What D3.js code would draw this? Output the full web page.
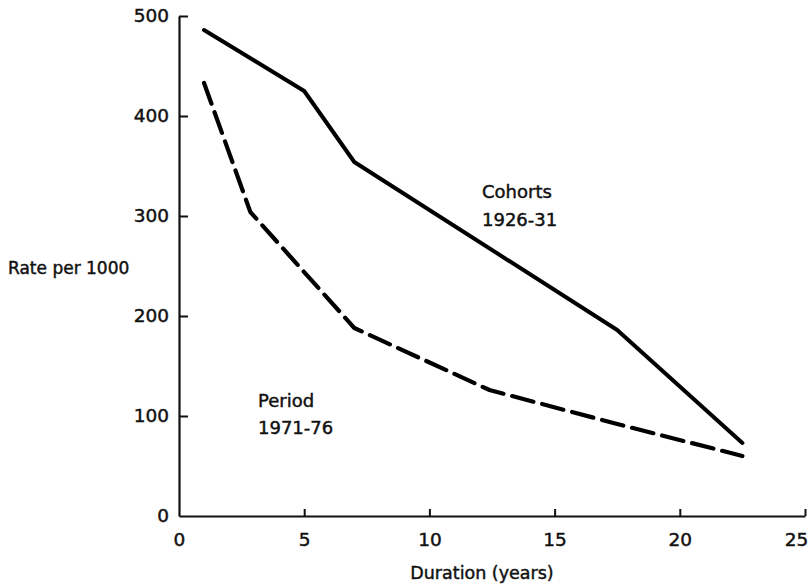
<!DOCTYPE html>
<html>
<head>
<meta charset="utf-8">
<script src="https://cdn.jsdelivr.net/npm/d3@7"></script>
<style>
  body { margin: 0; background: #fff; }
  text { font-family: "DejaVu Sans", sans-serif; fill: #111; stroke: #111; stroke-width: 0.45px; }
</style>
</head>
<body>
<svg id="chart" width="812" height="585"></svg>
<script>
// values
var cohortDur  = [1, 5, 7, 17.5, 22.5];
var cohortRate = [486, 425, 354, 186, 73];
var periodDur  = [1, 2.85, 7, 12.4, 17.5, 22.5];
var periodRate = [433, 304, 188, 126, 92, 60];
var xTicks = [0, 5, 10, 15, 20, 25];
var yTicks = [0, 100, 200, 300, 400, 500];

var svg = d3.select("#chart"),
    margin = {top: 16, right: 7, bottom: 69, left: 179},
    width = svg.attr("width") - margin.left - margin.right,
    height = svg.attr("height") - margin.top - margin.bottom;

var x = d3.scaleLinear().domain([0, 25]).range([0, width]);
var y = d3.scaleLinear().domain([0, 500]).range([height, 0]);

var g = svg.append("g")
    .attr("transform", "translate(" + margin.left + "," + margin.top + ")");

// axes: ticks point inward, as in the print
var xAxis = g.append("g")
    .attr("transform", "translate(0," + height + ")")
    .call(d3.axisBottom(x).tickValues(xTicks).tickSizeInner(-7).tickSizeOuter(0).tickPadding(17));
var yAxis = g.append("g")
    .call(d3.axisLeft(y).tickValues(yTicks).tickSizeInner(-9).tickSizeOuter(0).tickPadding(10));

[xAxis, yAxis].forEach(function(a) {
  a.select(".domain").attr("stroke", "#111").attr("stroke-width", 2.2);
  a.selectAll(".tick line").attr("stroke", "#111").attr("stroke-width", 2);
  a.selectAll(".tick text").style("font-size", "18.5px").attr("fill", "#111");
});
xAxis.select(".tick line").remove(); // no tick at x = 0
yAxis.selectAll(".tick").filter(function(d) { return d === 0; }).select("line").remove();
xAxis.selectAll(".tick").filter(function(d) { return d === 25; }).select("text").attr("dx", -9);

var line = d3.line()
    .x(function(d) { return x(d[0]); })
    .y(function(d) { return y(d[1]); });

var cohorts = d3.zip(cohortDur, cohortRate);
var period = d3.zip(periodDur, periodRate);

g.append("path")
    .datum(cohorts)
    .attr("fill", "none")
    .attr("stroke", "#000")
    .attr("stroke-width", 4)
    .attr("stroke-linecap", "round")
    .attr("stroke-linejoin", "round")
    .attr("d", line);

g.append("path")
    .datum(period)
    .attr("fill", "none")
    .attr("stroke", "#000")
    .attr("stroke-width", 4.2)
    .attr("stroke-linecap", "round")
    .attr("stroke-linejoin", "round")
    .attr("stroke-dasharray", "22,9")
    .attr("d", line);

// labels
svg.append("text").attr("x", 482).attr("y", 198).style("font-size", "18px").text("Cohorts");
svg.append("text").attr("x", 482).attr("y", 226).style("font-size", "18px").text("1926-31");
svg.append("text").attr("x", 258).attr("y", 407).style("font-size", "18px").text("Period");
svg.append("text").attr("x", 258).attr("y", 434).style("font-size", "18px").text("1971-76");

svg.append("text").attr("x", 8).attr("y", 274).style("font-size", "17px").text("Rate per 1000");
svg.append("text").attr("x", 482).attr("y", 579)
    .style("text-anchor", "middle").style("font-size", "17.5px").text("Duration (years)");
</script>
</body>
</html>
